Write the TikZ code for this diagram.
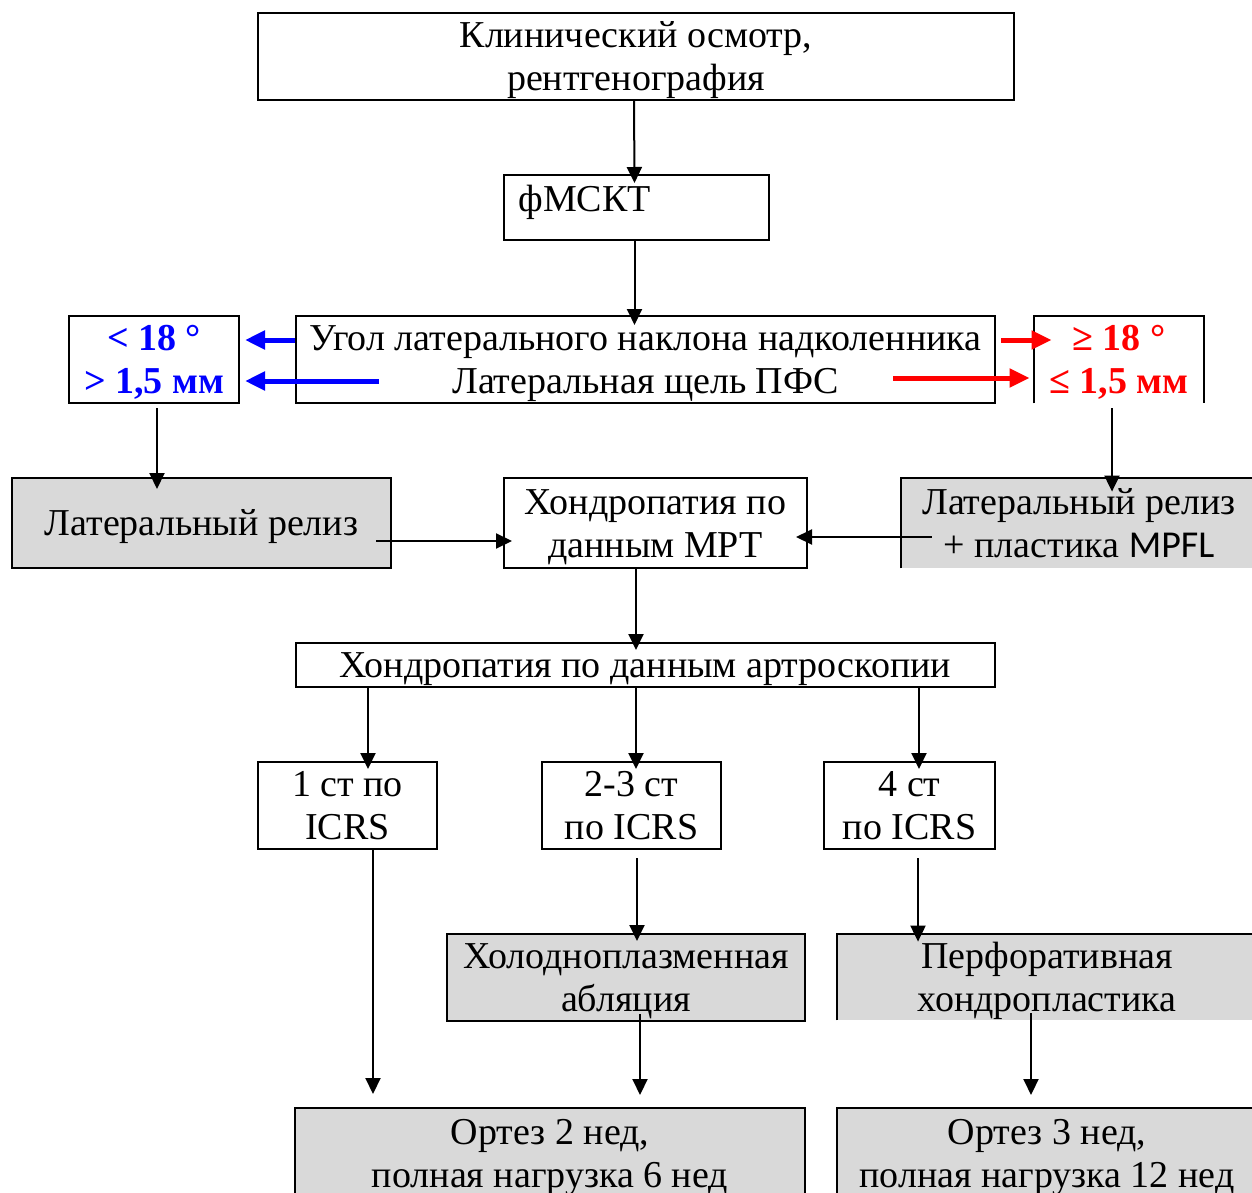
\documentclass[tikz,border=0pt]{standalone}
\usepackage{fontspec}
\setmainfont{Liberation Serif}
\newfontfamily\mpflfont{Carlito}
\usetikzlibrary{arrows.meta}
\definecolor{boxgrey}{RGB}{217,217,217}

\begin{document}
\begin{tikzpicture}[x=0.5pt,y=-0.5pt,
  every node/.style={font=\fontsize{19}{21.5}\selectfont},
  oneline/.style={text height=16.5pt,text depth=4.2pt},
  twoline/.style={text height=38.5pt,text depth=4.2pt},
  box/.style={draw,line width=1pt,inner sep=0pt,align=center},
  greybox/.style={box,fill=boxgrey},
  openbox/.style={inner sep=0pt,align=center},
  arr/.style={-{Triangle[length=8pt,width=7.5pt]},line width=1pt},
  bluearr/.style={-{Triangle[length=10pt,width=9pt]},line width=2.5pt,blue},
  redarr/.style={-{Triangle[length=10pt,width=9pt]},line width=2.5pt,red}]
\useasboundingbox (0,0) rectangle (1252,1193);

%Boxes
\node[box,twoline,minimum width=378pt,minimum height=43.5pt] (exam) at (636,56.5) {Клинический осмотр,\\ рентгенография};
\node[box,minimum width=132.5pt,minimum height=32.5pt] (mskt) at (636.5,207.5) {};
\node[anchor=north west,inner sep=0pt] (msktlabel) at (518,185) {фМСКТ};
\node[box,twoline,minimum width=349.5pt,minimum height=43.5pt] (tilt) at (645.5,359.5) {Угол латерального наклона надколенника\\ Латеральная щель ПФС};
\node[box,twoline,minimum width=85pt,minimum height=43.5pt,text=blue,font=\fontsize{19}{21.5}\selectfont\bfseries] (low) at (154,359.5) {< 18 °\\ > 1,5 мм};
\node[openbox,twoline,minimum width=85pt,minimum height=43.5pt,text=red,font=\fontsize{19}{21.5}\selectfont\bfseries] (high) at (1119,359.5) {≥ 18 °\\ ≤ 1,5 мм};
\draw[line width=1pt] (high.south west) -- (high.north west) -- (high.north east) -- (high.south east);

\node[greybox,oneline,minimum width=189.5pt,minimum height=45pt] (release) at (201.5,523) {Латеральный релиз};
\node[box,twoline,minimum width=151.5pt,minimum height=45pt] (mri) at (655.5,523) {Хондропатия по\\ данным МРТ};
\node[openbox,twoline,fill=boxgrey,minimum width=178pt,minimum height=45pt] (mpfl) at (1079,523) {Латеральный релиз\\ + пластика {\mpflfont MPFL}};
\draw[line width=1pt] (mpfl.south west) -- (mpfl.north west) -- (mpfl.north east);

\node[box,oneline,minimum width=349.5pt,minimum height=22pt] (arthro) at (645.5,665) {Хондропатия по данным артроскопии};

\node[box,twoline,minimum width=89.5pt,minimum height=43.5pt] (icrsa) at (347.5,805.5) {1 ст по\\ ICRS};
\node[box,twoline,minimum width=89.5pt,minimum height=43.5pt] (icrsb) at (631.5,805.5) {2-3 ст\\ по ICRS};
\node[box,twoline,minimum width=85.5pt,minimum height=43.5pt] (icrsc) at (909.5,805.5) {4 ст\\ по ICRS};

\node[greybox,twoline,minimum width=179pt,minimum height=43.5pt] (ablation) at (626,977.5) {Холодноплазменная\\ абляция};
\node[openbox,twoline,fill=boxgrey,minimum width=210pt,minimum height=43pt] (perf) at (1047,977) {Перфоративная\\ хондропластика};
\draw[line width=1pt] (perf.south west) -- (perf.north west) -- (perf.north east);

\node[greybox,twoline,minimum width=255pt,minimum height=45pt] (orthA) at (550,1153) {Ортез 2 нед,\\ полная нагрузка 6 нед};
\node[greybox,twoline,minimum width=210pt,minimum height=45pt] (orthB) at (1047,1153) {Ортез 3 нед,\\ полная нагрузка 12 нед};

%Connectors
\draw[arr] ([shift={(-2,0)}]exam.south) -- ([shift={(-2,9)}]mskt.north);
\draw[arr] ([shift={(-2,0)}]mskt.south) -- ([shift={(-2,10)}]mskt.south |- tilt.north);

\draw[bluearr] ([shift={(0,-19.5)}]tilt.west) -- ([shift={(5,-19.5)}]low.east);
\draw[bluearr] ([shift={(84,21.5)}]tilt.west) -- ([shift={(5,21.5)}]low.east);
\draw[redarr] ([shift={(5,-19.5)}]tilt.east) -- ([shift={(18,-19.5)}]high.west);
\draw[redarr] ([shift={(-103,18.5)}]tilt.east) -- ([shift={(-4,18.5)}]high.west);

\draw[arr] ([shift={(3,4)}]low.south) -- ([shift={(3,12)}]low.south |- release.north);
\draw[arr] ([shift={(-7,5)}]high.south) -- ([shift={(-7,14)}]high.south |- mpfl.north);

\draw[arr] ([shift={(-16,18)}]release.east) -- ([shift={(9,18)}]mri.west);
\draw[arr] ([shift={(31,14)}]mpfl.west) -- ([shift={(-12,14)}]mri.east);

\draw[arr] ([shift={(-19.5,0)}]mri.south) -- ([shift={(-19.5,8)}]mri.south |- arthro.north);

\draw[arr] ([shift={(20.5,0)}]icrsa.north |- arthro.south) -- ([shift={(20.5,8)}]icrsa.north);
\draw[arr] ([shift={(4.5,0)}]icrsb.north |- arthro.south) -- ([shift={(4.5,8)}]icrsb.north);
\draw[arr] ([shift={(9.5,0)}]icrsc.north |- arthro.south) -- ([shift={(9.5,8)}]icrsc.north);

\draw[arr] ([shift={(25.5,0)}]icrsa.south) -- ([shift={(25.5,-13)}]icrsa.south |- orthA.north);
\draw[arr] ([shift={(5.5,8)}]icrsb.south) -- ([shift={(5.5,8)}]icrsb.south |- ablation.north);
\draw[arr] ([shift={(8.5,8)}]icrsc.south) -- ([shift={(8.5,8)}]icrsc.south |- perf.north);

\draw[arr] ([shift={(14,-8)}]ablation.south) -- ([shift={(14,-12)}]ablation.south |- orthA.north);
\draw[arr] ([shift={(-16,-7)}]perf.south) -- ([shift={(-16,-12)}]perf.south |- orthB.north);

\end{tikzpicture}
\end{document}
